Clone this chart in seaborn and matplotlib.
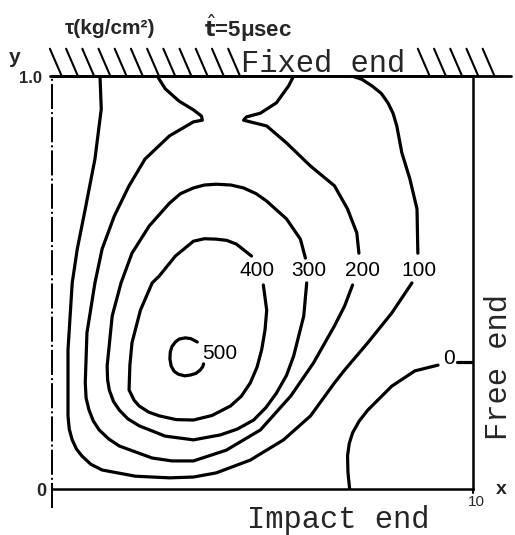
import numpy as np
import pandas as pd
import matplotlib
matplotlib.use("Agg")
import matplotlib.pyplot as plt
import seaborn as sns

# ---- contour data (x: 0..10, y: 0..1) ----
c100a_x = [1.14, 1.17, 1.02, 0.79, 0.60, 0.48, 0.38, 0.38, 0.41, 0.48, 0.58, 0.71, 0.92, 1.19, 1.98, 2.79, 3.36, 3.90, 4.71, 5.50, 6.14, 6.71, 6.95, 7.50, 8.07, 8.55]
c100a_y = [1.0, 0.920, 0.799, 0.678, 0.581, 0.499, 0.337, 0.177, 0.145, 0.119, 0.097, 0.080, 0.060, 0.046, 0.031, 0.027, 0.029, 0.039, 0.070, 0.119, 0.177, 0.257, 0.288, 0.354, 0.426, 0.499]
c100b_x = [8.69, 8.67, 8.50, 8.31, 8.19, 8.10, 7.98, 7.82, 7.60, 7.36, 7.12]
c100b_y = [0.571, 0.678, 0.751, 0.814, 0.879, 0.910, 0.935, 0.958, 0.976, 0.992, 1.0]

c200a_x = [2.50, 2.69, 3.02, 3.36, 3.55, 3.57, 3.36, 2.79, 2.21, 1.83, 1.48, 1.19, 1.02, 0.83, 0.79, 0.81, 0.88, 0.98, 1.12, 1.35, 1.60, 2.38, 2.85, 3.36, 4.14, 4.95, 5.67, 6.21, 6.71, 6.95, 7.14]
c200a_y = [1.0, 0.969, 0.939, 0.918, 0.903, 0.893, 0.889, 0.855, 0.799, 0.734, 0.661, 0.581, 0.499, 0.378, 0.257, 0.220, 0.191, 0.165, 0.143, 0.121, 0.104, 0.075, 0.068, 0.068, 0.094, 0.143, 0.225, 0.305, 0.395, 0.443, 0.494]
c200b_x = [7.29, 7.24, 7.02, 6.71, 6.14, 5.57, 5.10, 4.55, 4.62, 4.95, 5.33, 5.62, 5.74]
c200b_y = [0.571, 0.620, 0.678, 0.734, 0.782, 0.838, 0.879, 0.893, 0.901, 0.910, 0.935, 0.976, 1.0]

c300_x = [6.05, 5.98, 5.74, 5.57, 5.33, 5.08, 4.79, 4.40, 4.00, 3.36, 2.69, 2.07, 1.80, 1.60, 1.46, 1.36, 1.32, 1.31, 1.43, 1.64, 1.90, 2.31, 2.79, 3.05, 3.36, 3.62, 3.90, 4.25, 4.55, 4.85, 5.10, 5.57, 5.90, 6.02]
c300_y = [0.499, 0.419, 0.322, 0.275, 0.232, 0.197, 0.167, 0.145, 0.131, 0.119, 0.128, 0.153, 0.170, 0.191, 0.212, 0.240, 0.265, 0.298, 0.419, 0.499, 0.571, 0.637, 0.692, 0.715, 0.729, 0.736, 0.738, 0.736, 0.729, 0.715, 0.697, 0.654, 0.605, 0.559]

c400_x = [5.02, 5.10, 5.06, 4.98, 4.87, 4.71, 4.50, 4.24, 3.80, 3.36, 2.95, 2.55, 2.30, 2.07, 1.95, 1.83, 1.85, 1.90, 2.10, 2.38, 2.55, 2.93, 3.36, 3.62, 3.90, 4.15, 4.38, 4.74]
c400_y = [0.494, 0.433, 0.385, 0.337, 0.295, 0.257, 0.225, 0.201, 0.178, 0.167, 0.168, 0.177, 0.186, 0.201, 0.215, 0.240, 0.300, 0.354, 0.433, 0.499, 0.516, 0.564, 0.600, 0.606, 0.605, 0.602, 0.593, 0.564]

c500_x = [3.45, 3.30, 3.17, 3.02, 2.93, 2.85, 2.81, 2.80, 2.83, 2.90, 3.00, 3.15, 3.29, 3.42, 3.52, 3.58, 3.60]
c500_y = [0.356, 0.364, 0.366, 0.363, 0.356, 0.345, 0.332, 0.315, 0.298, 0.285, 0.278, 0.274, 0.276, 0.280, 0.288, 0.296, 0.303]

c0a_x = [7.07, 7.03, 7.02, 7.06, 7.14, 7.30, 7.50, 8.07, 8.62, 9.17]
c0a_y = [0.0, 0.040, 0.080, 0.110, 0.136, 0.165, 0.191, 0.249, 0.286, 0.300]
c0b_x = [9.62, 10.0]
c0b_y = [0.308, 0.308]

level_labels = ["0", "100", "200", "300", "400", "500"]
label_x = [9.43, 8.71, 7.38, 6.10, 4.86, 3.98]
label_y = [0.317, 0.528, 0.528, 0.528, 0.528, 0.327]

segments = {
    "c100a": (c100a_x, c100a_y), "c100b": (c100b_x, c100b_y),
    "c200a": (c200a_x, c200a_y), "c200b": (c200b_x, c200b_y),
    "c300": (c300_x, c300_y), "c400": (c400_x, c400_y),
    "c500": (c500_x, c500_y), "c0a": (c0a_x, c0a_y), "c0b": (c0b_x, c0b_y),
}
frames = []
for name, (xs, ys) in segments.items():
    frames.append(pd.DataFrame({"x": xs, "y": ys, "seg": name}))
df = pd.concat(frames, ignore_index=True)

sns.set_style("white")
plt.rcParams["font.family"] = ["Liberation Sans", "DejaVu Sans"]

fig = plt.figure(figsize=(5.15, 5.35), dpi=100)
ax = fig.add_axes([52 / 515, 46 / 535, 421 / 515, 413 / 535])

sns.lineplot(data=df, x="x", y="y", units="seg", estimator=None, sort=False,
             color="black", linewidth=2.3, ax=ax, legend=False)
for ln in ax.lines:
    ln.set_solid_capstyle("round")
    ln.set_solid_joinstyle("round")

for t, lx, ly in zip(level_labels, label_x, label_y):
    ax.text(lx, ly, t, ha="center", va="center", fontsize=15, color="black")

ax.set_xlim(0, 10)
ax.set_ylim(0, 1)
ax.set_xticks([])
ax.set_yticks([])
ax.set_xlabel("")
ax.set_ylabel("")

ax.spines["left"].set_visible(False)
for s in ["top", "right", "bottom"]:
    ax.spines[s].set_visible(True)
    ax.spines[s].set_color("black")
ax.spines["top"].set_linewidth(2.0)
ax.spines["right"].set_linewidth(1.8)
ax.spines["bottom"].set_linewidth(1.8)

# symmetry axis (dash-dot) on the left
ax.plot([0, 0], [-0.045, 1.0], color="black", lw=1.4, clip_on=False,
        linestyle=(0, (12.9, 1.6, 1.0, 1.6)))
# top boundary extension
ax.plot([-0.05, 10.9], [1.0, 1.0], color="black", lw=2.0, clip_on=False)
ax.plot([10.0, 10.0], [0.0, -0.01], color="black", lw=1.5, clip_on=False)

# hatching of the fixed end
hatch_left = -0.05 + 0.385 * np.arange(12)
hatch_right = 8.69 + 0.385 * np.arange(5)
for x0 in np.concatenate([hatch_left, hatch_right]):
    ax.plot([x0, x0 + 0.28], [1.066, 1.0], color="black", lw=1.5, clip_on=False)

mono = "Liberation Mono"
ax.text(6.45, 1.010, "Fixed end", family=mono, fontsize=22, ha="center", va="baseline")
ax.text(6.79, -0.094, "Impact end", family=mono, fontsize=22, ha="center", va="baseline")
ax.text(10.62, 0.295, "Free end", family=mono, fontsize=22, ha="center", va="center", rotation=90)

ax.text(-0.88, 1.044, "y", fontsize=15, fontweight="bold", ha="center", va="center")
ax.text(-0.50, 0.993, "1.0", fontsize=12, fontweight="bold", ha="center", va="center")
ax.text(-0.26, -0.007, "0", fontsize=13, fontweight="bold", ha="center", va="center")
ax.text(10.08, -0.032, "10", fontsize=11, ha="center", va="center")
ax.text(10.67, 0.0, "x", fontsize=14, fontweight="bold", ha="center", va="center")

ax.text(1.38, 1.114, "τ(kg/cm²)", fontsize=15, fontweight="bold", ha="center", va="center")
ax.text(4.66, 1.117, r"$\hat{\mathbf{t}}$=5μsec", fontsize=16, fontweight="bold", ha="center", va="center")

fig.savefig("out.png", dpi=100, facecolor="white")
